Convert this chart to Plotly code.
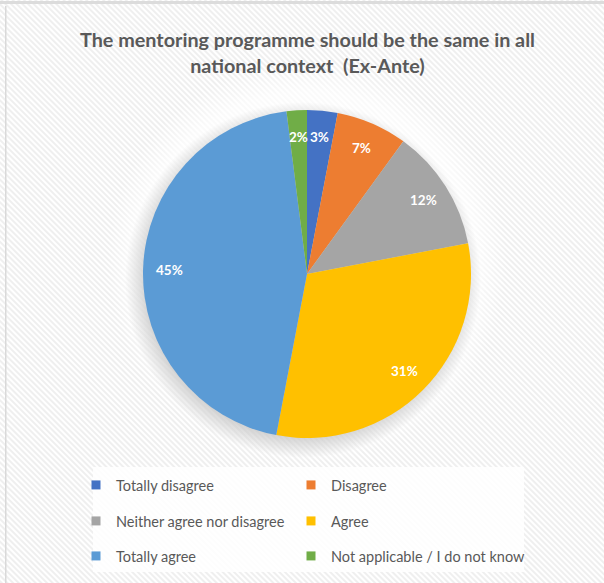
import math
import base64
import plotly.graph_objects as go

# ---- data ----
categories = ["Totally disagree", "Disagree", "Neither agree nor disagree",
              "Agree", "Totally agree", "Not applicable / I do not know"]
values = [3, 7, 12, 31, 45, 2]
colors = ["#4472C4", "#ED7D31", "#A5A5A5", "#FFC000", "#5B9BD5", "#70AD47"]
title_lines = ["The mentoring programme should be the same in all",
               "national context  (Ex-Ante)"]

W, H = 604, 583
CX, CY, R = 307, 274, 164  # pie geometry in px

def px_x(x):
    return x / W

def px_y(y):
    return 1 - y / H

fig = go.Figure()

fig.add_trace(go.Pie(
    labels=categories, values=values, sort=False, direction="clockwise",
    rotation=0, marker=dict(colors=colors, line=dict(width=0)),
    textinfo="none", showlegend=False,
    domain=dict(x=[px_x(CX - R), px_x(CX + R)], y=[px_y(CY + R), px_y(CY - R)]),
))

# data labels computed from values
total = sum(values)
cum = 0
annotations = []
for v in values:
    mid = (cum + v / 2) / total * 2 * math.pi
    cum += v
    lx = CX + 0.84 * R * math.sin(mid)
    ly = CY - 0.84 * R * math.cos(mid)
    annotations.append(dict(
        x=px_x(lx), y=px_y(ly), xref="paper", yref="paper",
        text=f"<b>{round(v / total * 100)}%</b>", showarrow=False,
        font=dict(family="Lato, Open Sans, sans-serif", size=13.5, color="white"),
        xanchor="center", yanchor="middle"))

annotations.append(dict(
    x=px_x(CX), y=px_y(52), xref="paper", yref="paper",
    text="<b>" + "<br>".join(title_lines) + "</b>", showarrow=False,
    font=dict(family="Lato, Open Sans, sans-serif", size=19.8, color="#595959"),
    xanchor="center", yanchor="middle", align="center"))

# legend: one legend box per entry, laid out in 2 columns x 3 rows
col_x = [76, 291]
row_y = [485, 521, 556]
legend_font = dict(family="Lato, Open Sans, sans-serif", size=14.5, color="#595959")
layout_legends = {}
for i, (cat, col) in enumerate(zip(categories, colors)):
    lname = "legend" if i == 0 else f"legend{i + 1}"
    fig.add_trace(go.Scatter(
        x=[None], y=[None], mode="markers", name=cat,
        marker=dict(symbol="square", size=9, color=col),
        legend=lname, showlegend=True, hoverinfo="skip"))
    layout_legends[lname] = dict(
        orientation="v", bgcolor="rgba(0,0,0,0)", font=legend_font,
        xanchor="left", yanchor="middle", itemwidth=30, borderwidth=0,
        x=px_x(col_x[i % 2]), y=px_y(row_y[i // 2]))

svg = ("<svg xmlns='http://www.w3.org/2000/svg' width='604' height='583'>"
       "<defs><pattern id='p' width='4' height='4' patternUnits='userSpaceOnUse' "
       "patternTransform='rotate(-45)'><rect width='4' height='4' fill='#ffffff'/>"
       "<rect width='2' height='4' fill='#efefef'/></pattern>"
       "<radialGradient id='g' cx='0.5' cy='0.5' r='0.5'>"
       "<stop offset='0.85' stop-color='#ffffff' stop-opacity='1'/>"
       "<stop offset='1' stop-color='#ffffff' stop-opacity='0'/></radialGradient>"
       "<radialGradient id='s' cx='0.5' cy='0.5' r='0.5'>"
       "<stop offset='0.88' stop-color='#b0b0b0' stop-opacity='0.55'/>"
       "<stop offset='1' stop-color='#b0b0b0' stop-opacity='0'/></radialGradient></defs>"
       "<rect width='604' height='583' fill='url(#p)'/>"
       "<circle cx='307' cy='262' r='200' fill='url(#g)' opacity='0.7'/>"
       "<circle cx='303' cy='280' r='178' fill='url(#s)'/>"
       "<rect x='93' y='467' width='431' height='105' fill='#ffffff' opacity='0.85'/>"
       "<rect x='0' y='1' width='604' height='3' fill='#dcdcdc'/>"
       "<rect x='5' y='6' width='1.5' height='577' fill='#d9d9d9'/>"
       "</svg>")
uri = "data:image/svg+xml;base64," + base64.b64encode(svg.encode()).decode()

fig.update_layout(
    width=W, height=H, autosize=False,
    margin=dict(l=0, r=0, t=0, b=0),
    paper_bgcolor="white", plot_bgcolor="rgba(0,0,0,0)",
    xaxis=dict(visible=False), yaxis=dict(visible=False),
    annotations=annotations,
    images=[dict(source=uri, xref="paper", yref="paper", x=0, y=1,
                 sizex=1, sizey=1, xanchor="left", yanchor="top",
                 sizing="stretch", layer="below")],
    **layout_legends,
)

fig.write_html("out.html", config={"displayModeBar": False},
               post_script="document.body.style.margin='0';"
                           "document.body.style.overflow='hidden';")
